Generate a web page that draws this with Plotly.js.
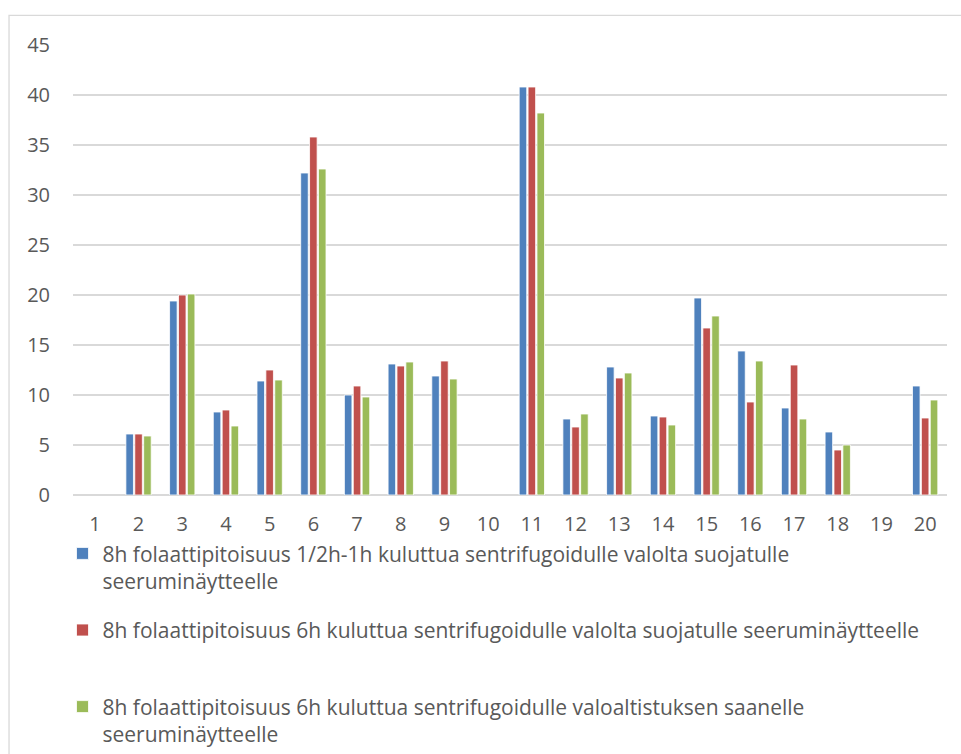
<!DOCTYPE html>
<html>
<head>
<meta charset="utf-8">
<script src="https://cdn.plot.ly/plotly-3.0.1.min.js"></script>
<style>
  html, body { margin: 0; padding: 0; background: #ffffff; }
  #chart { width: 961px; height: 754px; }
</style>
</head>
<body>
<div id="chart"></div>
<script>
// Sample numbers 1–20; samples 1, 10 and 19 have no measurement
const samples = ['1','2','3','4','5','6','7','8','9','10','11','12','13','14','15','16','17','18','19','20'];

// 8h folate concentration, serum centrifuged after 1/2h–1h, protected from light
const protected30min = [null, 6.1, 19.4, 8.3, 11.4, 32.2, 10.0, 13.1, 11.9, null, 40.8, 7.6, 12.8, 7.9, 19.7, 14.4, 8.7, 6.3, null, 10.9];
// 8h folate concentration, serum centrifuged after 6h, protected from light
const protected6h = [null, 6.1, 20.0, 8.5, 12.5, 35.8, 10.9, 12.9, 13.4, null, 40.8, 6.8, 11.7, 7.8, 16.7, 9.3, 13.0, 4.5, null, 7.7];
// 8h folate concentration, serum centrifuged after 6h, exposed to light
const exposed6h = [null, 5.9, 20.1, 6.9, 11.5, 32.6, 9.8, 13.3, 11.6, null, 38.2, 8.1, 12.2, 7.0, 17.9, 13.4, 7.6, 5.0, null, 9.5];

const seriesNames = [
  '8h folaattipitoisuus 1/2h-1h kuluttua sentrifugoidulle valolta suojatulle<br>seeruminäytteelle',
  '8h folaattipitoisuus 6h kuluttua sentrifugoidulle valolta suojatulle seeruminäytteelle<br> ',
  '8h folaattipitoisuus 6h kuluttua sentrifugoidulle valoaltistuksen saanelle<br>seeruminäytteelle'
];
const seriesColors = ['#4F81BD', '#C0504D', '#9BBB59'];
const seriesValues = [protected30min, protected6h, exposed6h];

const traces = seriesValues.map((vals, i) => ({
  type: 'bar',
  x: samples,
  y: vals,
  name: seriesNames[i],
  legendgroup: 'g' + i,
  marker: { color: seriesColors[i], line: { color: '#ffffff', width: 0.8 } },
  hoverinfo: 'x+y'
}));

const fontFamily = '"Open Sans", sans-serif';
const tickFont = { family: fontFamily, size: 20, color: '#595959' };

const layout = {
  width: 961,
  height: 754,
  paper_bgcolor: '#ffffff',
  plot_bgcolor: '#ffffff',
  margin: { l: 73, r: 14, t: 45, b: 259, autoexpand: false },
  barmode: 'group',
  bargap: 0.39,
  bargroupgap: 0.15,
  font: { family: fontFamily, size: 20, color: '#595959' },
  xaxis: {
    type: 'category',
    showgrid: false,
    showline: false,
    zeroline: false,
    ticks: '',
    ticklabelstandoff: 15,
    tickfont: tickFont
  },
  yaxis: {
    range: [0, 45],
    dtick: 5,
    showgrid: true,
    gridcolor: '#D9D9D9',
    gridwidth: 1.3,
    zeroline: true,
    zerolinecolor: '#D9D9D9',
    zerolinewidth: 1.3,
    showline: false,
    ticks: '',
    ticklabelstandoff: 22,
    tickfont: tickFont
  },
  showlegend: true,
  legend: {
    orientation: 'v',
    x: -0.012,
    xanchor: 'left',
    y: -0.085,
    yanchor: 'top',
    valign: 'top',
    maxheight: 400,
    tracegroupgap: 19,
    traceorder: 'grouped',
    font: { family: fontFamily, size: 21, color: '#595959' },
    bgcolor: 'rgba(0,0,0,0)'
  },
  shapes: [{
    type: 'rect',
    xref: 'paper', yref: 'paper',
    x0: -0.0732, x1: 1.03,
    y0: -0.6, y1: 1.066,
    line: { color: '#D9D9D9', width: 1.3 },
    fillcolor: 'rgba(0,0,0,0)',
    layer: 'below'
  }]
};

Plotly.newPlot('chart', traces, layout, { displayModeBar: false, staticPlot: true });
</script>
</body>
</html>
